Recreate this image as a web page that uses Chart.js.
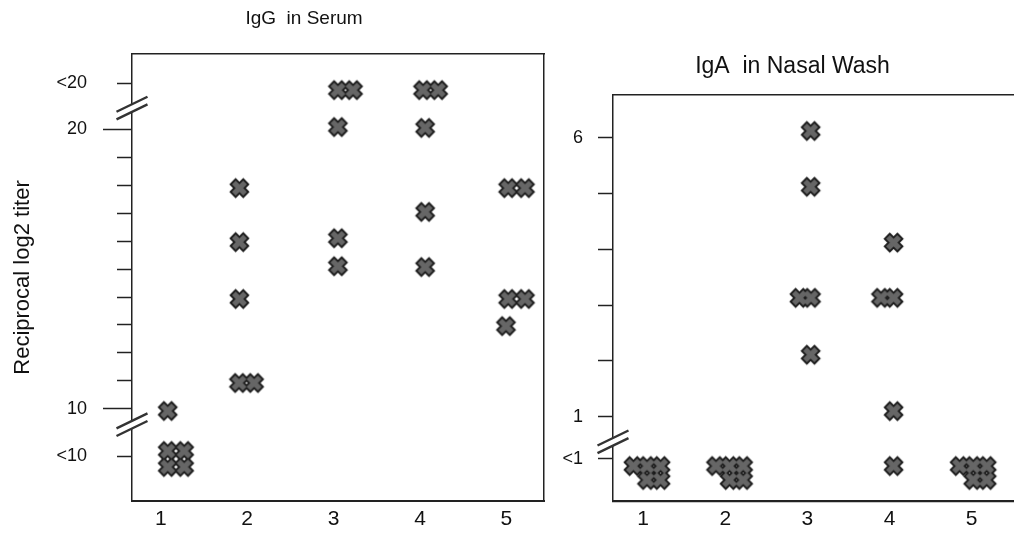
<!DOCTYPE html>
<html>
<head>
<meta charset="utf-8">
<title>IgG / IgA titers</title>
<script src="https://cdn.jsdelivr.net/npm/chart.js@4.4.1/dist/chart.umd.min.js"></script>
<style>
    html, body { margin: 0; padding: 0; background: #fff; overflow: hidden; }
    body { width: 1015px; height: 534px; position: relative; }
    .box { position: absolute; top: 0; height: 534px; }
    #serumBox { left: 0; width: 608px; }
    #nasalBox { left: 560px; width: 465px; }
</style>
</head>
<body>
<div class="box" id="serumBox"><canvas id="serumChart" width="608" height="534"></canvas></div>
<div class="box" id="nasalBox"><canvas id="nasalChart" width="465" height="534"></canvas></div>
<script>
/* ── DATA ── */
const groups = [1, 2, 3, 4, 5];

// IgG in serum: one entry per animal (x = group + small spread, y = titer)
const serumX = [1.08, 1.08, 1.27, 1.08, 1.27,
                1.91, 1.91, 1.91, 1.905, 2.08,
                3.05, 3.225, 3.05, 3.05, 3.05,
                4.035, 4.21, 4.06, 4.06, 4.06,
                5.02, 5.215, 5.02, 5.215, 4.995];
const serumY = [9.93, 8.5, 8.5, 7.93, 7.93,
                17.89, 15.96, 13.93, 10.93, 10.93,
                21.39, 21.39, 20.07, 16.1, 15.1,
                21.39, 21.39, 20.04, 17.04, 15.07,
                17.89, 17.89, 13.93, 13.93, 12.96];

// IgA in nasal wash
const nasalX = [0.882, 1.047, 1.213, 1.047, 1.213,
                1.887, 2.052, 2.218, 2.052, 2.218,
                3.04, 3.04, 2.903, 3.045, 3.04,
                4.05, 3.896, 4.05, 4.05, 4.05,
                4.853, 5.019, 5.184, 5.019, 5.184];
const nasalY = [0.116, 0.116, 0.116, -0.134, -0.134,
                0.116, 0.116, 0.116, -0.134, -0.134,
                6.12, 5.12, 3.13, 3.13, 2.11,
                4.12, 3.13, 3.13, 1.10, 0.116,
                0.116, 0.116, 0.116, -0.134, -0.134];

// tick positions and their texts
const serumTicks = [8.32, 10, 11, 12, 13, 14, 15, 16, 17, 18, 19, 20, 21.64];
const serumTickText = ["<10", "10", "", "", "", "", "", "", "", "", "", "20", "<20"];
const serumMajor = [10, 20];
const serumBreaks = [9.44, 20.75];

const nasalTicks = [0.247, 1, 2, 3, 4, 5, 6];
const nasalTickText = ["<1", "1", "", "", "", "", "6"];
const nasalBreaks = [0.55];

/* ── STYLE ── */
const fontFamily = "'Liberation Sans', Arial, sans-serif";
const inkColor = "#111";
const axisColor = "#222";
Chart.defaults.color = inkColor;
Chart.defaults.font.family = fontFamily;

// bold "x" marker, drawn as two layers (dark rim, grey body) so overlapping
// markers merge into one blob like in the printed figure
function makeCross(size, color, width, inset) {
    const c = document.createElement("canvas");
    c.width = size;
    c.height = size;
    const g = c.getContext("2d");
    const a = 4.5 + inset, b = size - 4.5 - inset;
    g.lineCap = "butt";
    g.strokeStyle = color;
    g.lineWidth = width;
    g.beginPath();
    g.moveTo(a, a); g.lineTo(b, b);
    g.moveTo(b, a); g.lineTo(a, b);
    g.stroke();
    return c;
}
const crossRim = makeCross(23, "#1c1c1c", 9, 0);
const crossBody = makeCross(23, "#666", 5.4, 1.4);

// "//" marks across the y axis
const axisBreaks = {
    id: "axisBreaks",
    afterDraw(chart, args, opts) {
        const { ctx, chartArea } = chart;
        const yScale = chart.scales.y;
        ctx.save();
        (opts.at || []).forEach((v) => {
            const cx = chartArea.left;
            const cy = yScale.getPixelForValue(v);
            ctx.fillStyle = "#fff";
            ctx.beginPath();
            ctx.moveTo(cx - 15.5, cy + 3.7);
            ctx.lineTo(cx + 15.5, cy - 11.3);
            ctx.lineTo(cx + 15.5, cy - 3.7);
            ctx.lineTo(cx - 15.5, cy + 11.3);
            ctx.closePath();
            ctx.fill();
            ctx.strokeStyle = "#333";
            ctx.lineWidth = 2.4;
            ctx.beginPath();
            ctx.moveTo(cx - 15.5, cy + 3.7); ctx.lineTo(cx + 15.5, cy - 11.3);
            ctx.moveTo(cx - 15.5, cy + 11.3); ctx.lineTo(cx + 15.5, cy - 3.7);
            ctx.stroke();
        });
        ctx.restore();
    },
};

function points(xs, ys) {
    return xs.map((x, i) => ({ x: x, y: ys[i] }));
}

function markerSets(xs, ys, label) {
    const data = points(xs, ys);
    return [
        { label: label, data: data, pointStyle: crossBody, pointRadius: 11, order: 1 },
        { label: label, data: data, pointStyle: crossRim, pointRadius: 11, order: 2 },
    ];
}

function frameAxis(position, min, max, size) {
    return {
        type: "linear",
        position: position,
        min: min,
        max: max,
        ticks: { display: false },
        grid: { display: false, drawTicks: false },
        border: { color: axisColor, width: 1.5 },
        afterFit: (s) => {
            if (position === "top") s.height = size;
            else s.width = size;
        },
    };
}

function xAxis(min, max, borderWidth) {
    return {
        type: "linear",
        position: "bottom",
        min: min,
        max: max,
        afterBuildTicks: (s) => { s.ticks = groups.map((v) => ({ value: v })); },
        afterFit: (s) => { s.height = 33; },
        grid: { display: false, drawTicks: false },
        border: { color: axisColor, width: borderWidth },
        ticks: {
            autoSkip: false,
            maxRotation: 0,
            padding: 6,
            font: { size: 21 },
            callback: (v) => String(v),
        },
    };
}

/* ── IgG IN SERUM ── */
new Chart(document.getElementById("serumChart").getContext("2d"), {
    type: "scatter",
    data: { datasets: markerSets(serumX, serumY, "IgG") },
    options: {
        responsive: false,
        animation: false,
        layout: { padding: 0 },
        plugins: {
            legend: { display: false },
            tooltip: { enabled: false },
            title: {
                display: true,
                text: "IgG  in Serum",
                font: { size: 19, weight: "normal" },
                color: inkColor,
                padding: { top: 7.6, bottom: 23.6 },
            },
            axisBreaks: { at: serumBreaks },
        },
        scales: {
            x: xAxis(0.6667, 5.4352, 2),
            x2: frameAxis("top", 0.6667, 5.4352, 0),
            y: {
                type: "linear",
                position: "left",
                min: 6.714,
                max: 22.679,
                afterBuildTicks: (s) => { s.ticks = serumTicks.map((v) => ({ value: v })); },
                afterFit: (s) => { s.width = 132; },
                grid: {
                    display: true,
                    drawOnChartArea: false,
                    drawTicks: true,
                    tickLength: 29,
                    tickWidth: 1.5,
                    tickColor: axisColor,
                    // short ticks: only the inner 15px of the 29px tick is drawn
                    tickBorderDash: (c) => (serumMajor.includes(c.tick.value) ? [] : [15, 14]),
                    tickBorderDashOffset: (c) => (serumMajor.includes(c.tick.value) ? 0 : 15),
                },
                border: { color: axisColor, width: 1.5 },
                ticks: {
                    autoSkip: false,
                    padding: 16,
                    font: { size: 18 },
                    callback: (v, i) => serumTickText[i],
                },
                title: {
                    display: true,
                    text: "Reciprocal log2 titer",
                    font: { size: 22 },
                    color: inkColor,
                    padding: { top: 10, bottom: 0 },
                },
            },
            y2: frameAxis("right", 6.714, 22.679, 64),
        },
    },
    plugins: [axisBreaks],
});

/* ── IgA IN NASAL WASH ── */
new Chart(document.getElementById("nasalChart").getContext("2d"), {
    type: "scatter",
    data: { datasets: markerSets(nasalX, nasalY, "IgA") },
    options: {
        responsive: false,
        animation: false,
        layout: { padding: 0 },
        plugins: {
            legend: { display: false },
            tooltip: { enabled: false },
            title: {
                display: true,
                text: "IgA  in Nasal Wash",
                font: { size: 23, weight: "normal" },
                color: inkColor,
                padding: { top: 53.2, bottom: 14.2 },
            },
            axisBreaks: { at: nasalBreaks },
        },
        scales: {
            x: xAxis(0.6336, 5.5036, 2.2),
            x2: frameAxis("top", 0.6336, 5.5036, 0),
            y: {
                type: "linear",
                position: "left",
                min: -0.511,
                max: 6.765,
                afterBuildTicks: (s) => { s.ticks = nasalTicks.map((v) => ({ value: v })); },
                afterFit: (s) => { s.width = 53; },
                grid: {
                    display: true,
                    drawOnChartArea: false,
                    drawTicks: true,
                    tickLength: 15,
                    tickWidth: 1.5,
                    tickColor: axisColor,
                },
                border: { color: axisColor, width: 1.5 },
                ticks: {
                    autoSkip: false,
                    padding: 15,
                    font: { size: 18 },
                    callback: (v, i) => nasalTickText[i],
                },
            },
        },
    },
    plugins: [axisBreaks],
});
</script>
</body>
</html>
